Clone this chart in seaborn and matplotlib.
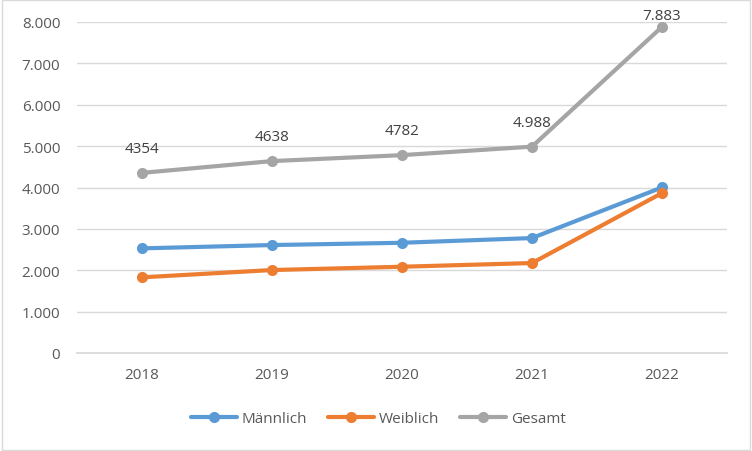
import matplotlib
matplotlib.use("Agg")
import matplotlib.pyplot as plt
import seaborn as sns
import pandas as pd

years = ["2018", "2019", "2020", "2021", "2022"]
maennlich = [2529, 2609, 2664, 2778, 4002]
weiblich = [1829, 2005, 2085, 2174, 3865]
gesamt = [4354, 4638, 4782, 4988, 7883]
gesamt_labels = ["4354", "4638", "4782", "4.988", "7.883"]
yticks = [0, 1000, 2000, 3000, 4000, 5000, 6000, 7000, 8000]
ytick_labels = ["0", "1.000", "2.000", "3.000", "4.000", "5.000", "6.000", "7.000", "8.000"]

series = {"Männlich": maennlich, "Weiblich": weiblich, "Gesamt": gesamt}
colors = {"Männlich": "#5B9BD5", "Weiblich": "#ED7D31", "Gesamt": "#A5A5A5"}

df = pd.DataFrame(
    [(y, name, v) for name, vals in series.items() for y, v in zip(years, vals)],
    columns=["year", "series", "value"],
)

sns.set_theme(style="white")
plt.rcParams["font.family"] = ["Open Sans", "DejaVu Sans"]
text_color = "#595959"
fs = 11

fig = plt.figure(figsize=(7.52, 4.52), dpi=100)
ax = fig.add_axes([77 / 752, 1 - 354 / 452, 650 / 752, 331 / 452])

sns.lineplot(data=df, x="year", y="value", hue="series", palette=colors,
             marker="o", markersize=8, markeredgewidth=0, linewidth=3,
             sort=False, ax=ax)

ax.set_xlim(-0.5, 4.5)
ax.set_ylim(0, 8000)
ax.set_yticks(yticks)
ax.set_yticklabels(ytick_labels)
ax.grid(axis="y", color="#D9D9D9", linewidth=1)
ax.set_axisbelow(True)
for s in ["top", "right", "left"]:
    ax.spines[s].set_visible(False)
ax.spines["bottom"].set_color("#D9D9D9")
ax.tick_params(axis="both", length=0, labelsize=fs, colors=text_color, pad=12)
ax.tick_params(axis="x", pad=10)
ax.set_xlabel("")
ax.set_ylabel("")

# data labels above the Gesamt line; the top one is pushed down to stay inside the chart
for i, lab in enumerate(gesamt_labels):
    off = 12 if gesamt[i] < 7500 else 3
    ax.annotate(lab, (i, gesamt[i]), xytext=(0, off), textcoords="offset points",
                ha="center", va="bottom", fontsize=fs, color="#404040",
                annotation_clip=False)

handles, labels = ax.get_legend_handles_labels()
ax.get_legend().remove()
fig.legend(handles, labels, loc="center", bbox_to_anchor=(0.503, 1 - 420 / 452),
           ncol=3, frameon=False, fontsize=fs, labelcolor=text_color,
           handlelength=3, columnspacing=1.4, handletextpad=0.3)

fig.patches.append(plt.Rectangle((0.002, 0.003), 0.995, 0.994, transform=fig.transFigure,
                                 fill=False, edgecolor="#D9D9D9", linewidth=1))

fig.savefig("out.png", dpi=100)
